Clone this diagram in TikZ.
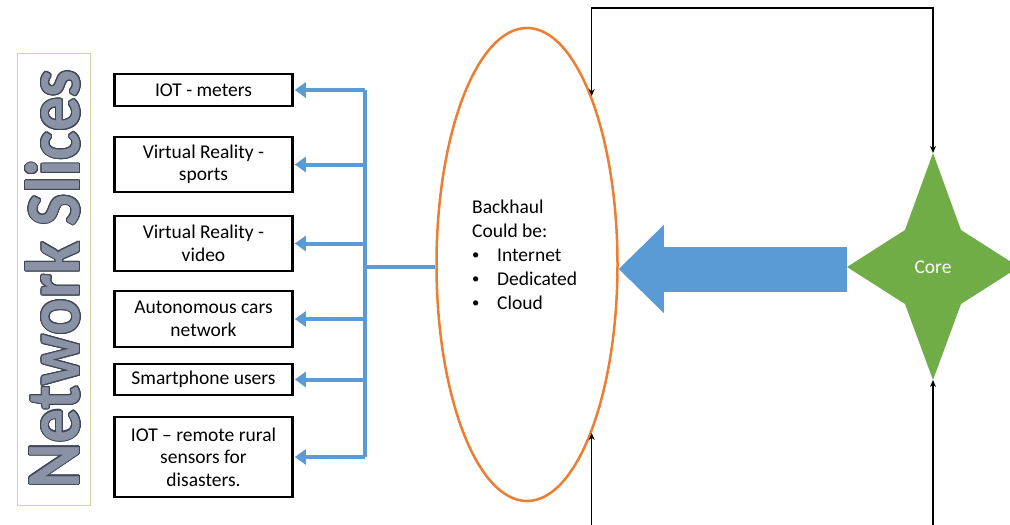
\documentclass[tikz,border=0pt]{standalone}
\usepackage{fontspec}
\setmainfont{Carlito}
\usepackage{xcolor}
\usepackage{graphicx}
\usepackage[copies]{contour}
\usetikzlibrary{calc,arrows.meta,shapes.geometric}
\definecolor{sliceblue}{HTML}{5B9BD5}
\definecolor{hauledge}{HTML}{ED7D31}
\definecolor{coregreen}{HTML}{70AD47}
\definecolor{titleedge}{HTML}{D8CFA8}
\definecolor{titlefill}{HTML}{8A93A5}
\definecolor{titleline}{HTML}{3E4656}
\contourlength{1.2pt}
\newcommand\haulitem{\makebox[25pt][l]{\raisebox{1.5pt}{\scalebox{0.75}{\textbullet}}}}
\tikzset{
  >={Stealth[length=7pt,width=6pt]},
  slice/.style={draw,line width=2.6pt,minimum width=178pt,align=center,
    inner sep=2pt,font=\fontsize{19.5}{22.5}\selectfont},
  trunk/.style={draw=sliceblue,line width=4pt},
  feed/.style={trunk,-{Triangle[length=11pt,width=15pt]},shorten >=1pt},
  link/.style={line width=1.4pt},
  bigflow/.style={draw=sliceblue,line width=45pt,
    -{Triangle[length=45pt,width=88pt,line width=0pt]}},
}

\begin{document}
\begin{tikzpicture}[x=1pt,y=-1pt]
  \useasboundingbox (0,0) rectangle (1010,525);

  \node[draw=titleedge,line width=1pt,minimum width=452pt,minimum height=73pt,
    inner sep=0pt,rotate=90] (title) at (53.5,279)
    {\resizebox{418pt}{54pt}{\fontsize{80}{80}\selectfont\bfseries
      \textcolor{titlefill}{\contour{titleline}{Network Slices}}}};

  \node[slice,minimum height=32pt] (s1) at (203.5,90) {IOT - meters};
  \node[slice,minimum height=55pt] (s2) at (203.5,164.5) {Virtual Reality -\\sports};
  \node[slice,minimum height=55pt] (s3) at (203.5,243.5) {Virtual Reality -\\video};
  \node[slice,minimum height=56pt] (s4) at (203.5,319) {Autonomous cars\\network};
  \node[slice,minimum height=31pt] (s5) at (203.5,379.5) {Smartphone users};
  \node[slice,minimum height=80pt] (s6) at (203.5,457) {IOT -- remote rural\\sensors for\\disasters.};

  \node[ellipse,draw=hauledge,line width=2.5pt,minimum width=181pt,
    minimum height=473pt] (backhaul) at (527,264.5) {};
  \node[anchor=north west,align=left,inner sep=0pt,
    font=\fontsize{19.5}{24}\selectfont] (haultext) at (472,199.5)
    {Backhaul\\Could be:\\\haulitem Internet\\\haulitem Dedicated\\\haulitem Cloud};

  % slices fed from the backhaul
  \coordinate (bus) at (365,267);
  \draw[trunk] (backhaul.west |- bus) -- (bus);
  \draw[trunk] (bus |- s1.east) -- (bus |- s6.east);
  \foreach \s in {s1,s2,s3,s4,s5,s6}
    \draw[feed] (bus |- \s.east) -- (\s.east);

  \coordinate (core) at (933,267);
  \coordinate (coreN) at (933,153);
  \coordinate (coreS) at (933,380);
  \coordinate (coreW) at (847,269);
  \draw[bigflow] (coreW) -- (coreW -| backhaul.east);
  \fill[coregreen] (coreN) -- ($(core)+(28,-37)$) -- ($(core)+(86,0)$)
    -- ($(core)+(28,37)$) -- (coreS) -- ($(core)+(-28,37)$)
    -- ($(core)+(-86,0)$) -- ($(core)+(-28,-37)$) -- cycle;
  \node[text=white,font=\fontsize{19.5}{24}\selectfont] (coretext) at (core) {Core};

  \coordinate (loopTop) at (933,8);
  \coordinate (loopBot) at (933,530);
  \draw[link,<->] (backhaul.69) -- (backhaul.69 |- loopTop) -- (loopTop) -- (coreN);
  \draw[link,->] (backhaul.-69 |- loopBot) -- (backhaul.-69);
  \draw[link,->] (loopBot) -- (coreS);
\end{tikzpicture}
\end{document}
